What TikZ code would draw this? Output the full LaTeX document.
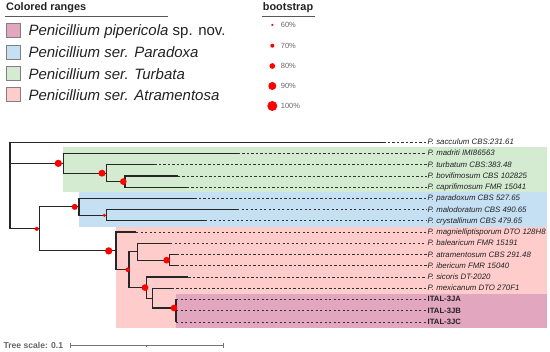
\documentclass[tikz,border=0pt]{standalone}
\usepackage{fontspec}
\setmainfont{Liberation Sans}
\definecolor{cgreen}{RGB}{212,235,210}
\definecolor{cblue}{RGB}{198,224,243}
\definecolor{cpink}{RGB}{255,204,204}
\definecolor{cpurple}{RGB}{226,166,190}
\definecolor{txt}{RGB}{34,34,34}
\begin{document}
\begin{tikzpicture}[x=1pt,y=-1pt,
  br/.style={line width=1.2pt, draw=black!85},
  dl/.style={line width=0.85pt, draw=black!80, dash pattern=on 2.4pt off 2.1pt},
  leaf/.style={anchor=west, inner xsep=1pt, inner ysep=0pt, text height=5.7pt, text depth=0.8pt,
    font=\fontsize{7.85}{8}\selectfont\itshape, text=txt},
  ital/.style={anchor=west, inner xsep=1pt, inner ysep=0pt, text height=5.7pt, text depth=0.8pt,
    font=\fontsize{7.7}{8}\selectfont\bfseries, text=txt},
  bs/.style={circle, fill=red, draw=none, inner sep=0pt, minimum size=#1},
  sq/.style={rectangle, draw=black!50, line width=0.7pt, inner sep=0pt, minimum size=14pt},
  lgtext/.style={anchor=base west, inner sep=0pt, font=\fontsize{15}{16}\selectfont, text=txt},
  pct/.style={anchor=west, inner sep=0pt, font=\fontsize{7.5}{8}\selectfont, text=black!60},
  head/.style={anchor=base west, inner sep=0pt, font=\fontsize{10.9}{12}\selectfont\bfseries, text=txt}
]
\useasboundingbox (0,0) rectangle (550,352);

% colored ranges
\fill[cgreen] (63.3,147.3) rectangle (547,192.3);
\fill[cblue] (78.6,192.3) rectangle (547,226.7);
\fill[cpink] (116,226.7) rectangle (547,327.7);
\fill[cpurple] (176,294) rectangle (547,327.7);

% legend: colored ranges
\node[head] (hcr) at (6,11) {Colored ranges};
\coordinate (ul1) at (5,16.7); \coordinate (ul2) at (167.7,16.7);
\draw[black!65, line width=0.8pt] (ul1) -- (ul2);
\node[sq, fill=cpurple] (s1) at (13.4,30.3) {};
\node[sq, fill=cblue] (s2) at (13.4,52) {};
\node[sq, fill=cgreen] (s3) at (13.4,73.8) {};
\node[sq, fill=cpink] (s4) at (13.4,94.5) {};
\node[lgtext] (t1) at (28.3,36) {\textit{Penicillium pipericola} sp. nov.};
\node[lgtext] (t2) at (28.3,57.7) {\textit{Penicillium ser. Paradoxa}};
\node[lgtext] (t3) at (28.3,79.5) {\textit{Penicillium ser. Turbata}};
\node[lgtext] (t4) at (28.3,100.2) {\textit{Penicillium ser. Atramentosa}};

% legend: bootstrap
\node[head] (hbs) at (262.7,10.8) {bootstrap};
\coordinate (ub1) at (261.5,16.7); \coordinate (ub2) at (315,16.7);
\draw[black!65, line width=0.8pt] (ub1) -- (ub2);
\node[bs=2.4pt] (b60) at (272.3,25) {};
\node[bs=4pt] (b70) at (272.3,45.7) {};
\node[bs=5.7pt] (b80) at (272.3,66) {};
\node[bs=8pt] (b90) at (272.3,86) {};
\node[bs=10pt] (b100) at (272.3,106) {};
\node[pct] (p60) at (280.7,25) {60\%};
\node[pct] (p70) at (280.7,45.7) {70\%};
\node[pct] (p80) at (280.7,66) {80\%};
\node[pct] (p90) at (280.7,86) {90\%};
\node[pct] (p100) at (280.7,106) {100\%};

% tree internal nodes
\coordinate (R) at (10,185.6);
\coordinate (Nturb) at (63.3,163.35);
\coordinate (Ntb) at (106.7,173.2);
\coordinate (Ncb) at (125,181.6);
\coordinate (NPA) at (39.3,228.9);
\coordinate (Npar) at (79,206.9);
\coordinate (Nmc) at (106.7,215.3);
\coordinate (Natr) at (116,250.9);
\coordinate (NB) at (129,269.7);
\coordinate (NC) at (137.7,251.8);
\coordinate (ND) at (169.3,260.2);
\coordinate (NE) at (146.7,287.6);
\coordinate (NF) at (152.7,298.2);
\coordinate (NG) at (176,308);

% leaf ends
\coordinate (e0) at (383.3,142.3);
\coordinate (e1) at (237.7,153.5);
\coordinate (e2) at (154.3,164.8);
\coordinate (e3) at (177.7,176.0);
\coordinate (e4) at (186.7,187.2);
\coordinate (e5) at (194.3,198.5);
\coordinate (e6) at (237,209.7);
\coordinate (e7) at (205,220.9);
\coordinate (e8) at (136,232.1);
\coordinate (e9) at (170,243.4);
\coordinate (e10) at (176.7,254.6);
\coordinate (e11) at (176.7,265.8);
\coordinate (e12) at (188.3,277.1);
\coordinate (e13) at (171.7,288.3);
\coordinate (e14) at (176,299.5);
\coordinate (e15) at (176,310.8);
\coordinate (e16) at (176,322);

% leaf labels
\node[leaf] (l0) at (426.5,142.3) {P. sacculum CBS:231.61};
\node[leaf] (l1) at (426.5,153.5) {P. madriti IMI86563};
\node[leaf] (l2) at (426.5,164.8) {P. turbatum CBS:383.48};
\node[leaf] (l3) at (426.5,176.0) {P. bovifimosum CBS 102825};
\node[leaf] (l4) at (426.5,187.2) {P. caprifimosum FMR 15041};
\node[leaf] (l5) at (426.5,198.5) {P. paradoxum CBS 527.65};
\node[leaf] (l6) at (426.5,209.7) {P. malodoratum CBS 490.65};
\node[leaf] (l7) at (426.5,220.9) {P. crystallinum CBS 479.65};
\node[leaf] (l8) at (426.5,232.1) {P. magnielliptisporum DTO 128H8};
\node[leaf] (l9) at (426.5,243.4) {P. balearicum FMR 15191};
\node[leaf] (l10) at (426.5,254.6) {P. atramentosum CBS 291.48};
\node[leaf] (l11) at (426.5,265.8) {P. ibericum FMR 15040};
\node[leaf] (l12) at (426.5,277.1) {P. sicoris DT-2020};
\node[leaf] (l13) at (426.5,288.3) {P. mexicanum DTO 270F1};
\node[ital] (l14) at (426.5,299.5) {ITAL-3JA};
\node[ital] (l15) at (426.5,310.8) {ITAL-3JB};
\node[ital] (l16) at (426.5,322) {ITAL-3JC};

% dashed leaf extensions
\foreach \i in {0,...,16} { \draw[dl] (e\i) -- (l\i.west); }

% branches
\draw[br] (R) |- (e0);
\draw[br] (R) |- (Nturb);
\draw[br] (R) |- (NPA);
\draw[br] (Nturb) |- (e1);
\draw[br] (Nturb) |- (Ntb);
\draw[br] (Ntb) |- (e2);
\draw[br] (Ntb) |- (Ncb);
\draw[br] (Ncb) |- (e3);
\draw[br] (Ncb) |- (e4);
\draw[br] (NPA) |- (Npar);
\draw[br] (NPA) |- (Natr);
\draw[br] (Npar) |- (e5);
\draw[br] (Npar) |- (Nmc);
\draw[br] (Nmc) |- (e6);
\draw[br] (Nmc) |- (e7);
\draw[br] (Natr) |- (e8);
\draw[br] (Natr) |- (NB);
\draw[br] (NB) |- (NC);
\draw[br] (NB) |- (NE);
\draw[br] (NC) |- (e9);
\draw[br] (NC) |- (ND);
\draw[br] (ND) |- (e10);
\draw[br] (ND) |- (e11);
\draw[br] (NE) |- (e12);
\draw[br] (NE) |- (NF);
\draw[br] (NF) |- (e13);
\draw[br] (NF) |- (NG);
\draw[br] (NG) |- (e14);
\draw[br] (NG) |- (e15);
\draw[br] (NG) |- (e16);

% bootstrap dots
\node[bs=4pt] (dPA) at (36.7,228.9) {};
\node[bs=7.3pt] (dturb) at (58.3,163.35) {};
\node[bs=7pt] (dtb) at (102,173.2) {};
\node[bs=6.7pt] (dcb) at (123.3,181.6) {};
\node[bs=6pt] (dpar) at (74.7,206.9) {};
\node[bs=3.4pt] (dmc) at (104.3,215.3) {};
\node[bs=7.3pt] (datr) at (108.7,250.9) {};
\node[bs=4.5pt] (dB) at (127.7,269.7) {};
\node[bs=6.7pt] (dD) at (166.7,260.2) {};
\node[bs=6.7pt] (dE) at (145,287.6) {};
\node[bs=6.7pt] (dG) at (174,308) {};

% tree scale
\node[anchor=base west, inner sep=0pt, font=\fontsize{8.6}{9}\selectfont\bfseries, text=black!60] (ts) at (3.3,348.4) {Tree scale: 0.1};
\coordinate (sb1) at (70,345.7); \coordinate (sb2) at (223.3,345.7); \coordinate (sbm) at (146.7,345.7);
\draw[black!55, line width=0.8pt] (sb1) -- (sb2);
\draw[black!55, line width=0.8pt] ([yshift=-2.2pt]sb1) -- ([yshift=2.2pt]sb1);
\draw[black!55, line width=0.8pt] ([yshift=-2.2pt]sb2) -- ([yshift=2.2pt]sb2);
\draw[black!55, line width=0.8pt] (sbm) -- ([yshift=-1.3pt]sbm);
\end{tikzpicture}
\end{document}
